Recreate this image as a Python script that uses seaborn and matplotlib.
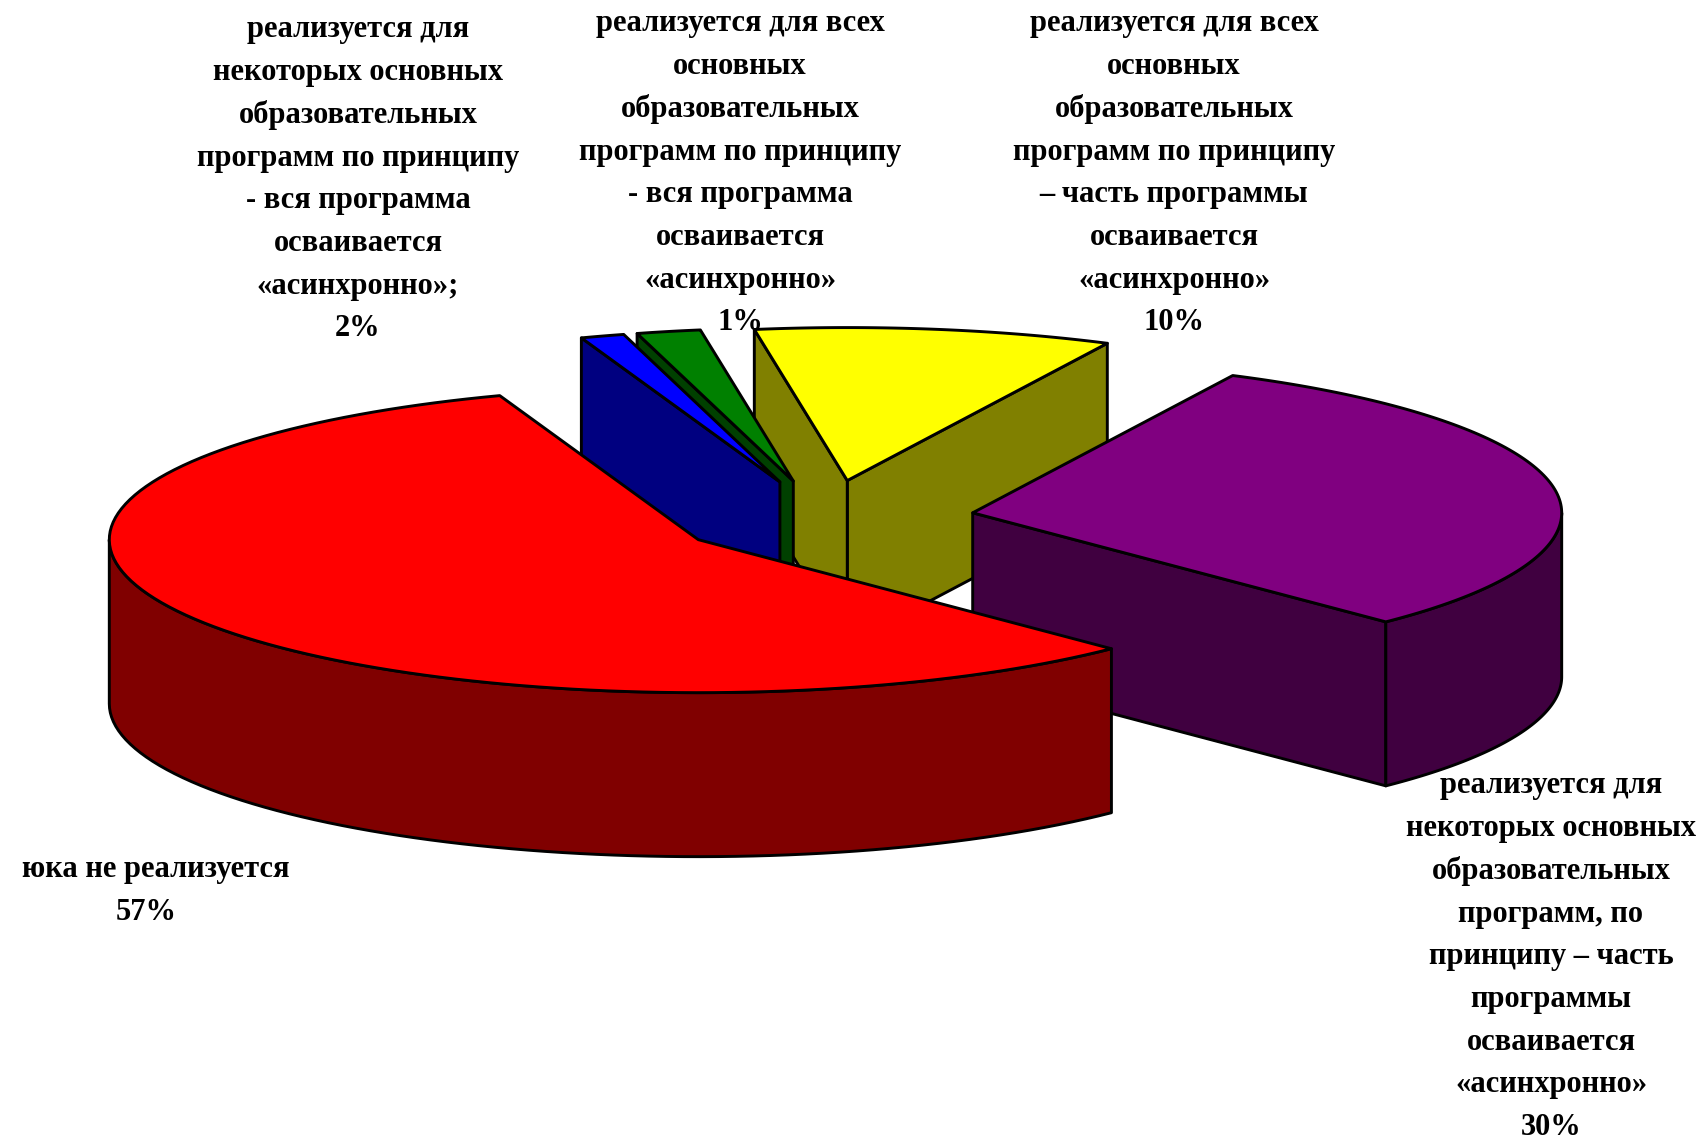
import matplotlib
matplotlib.use('Agg')
import matplotlib.pyplot as plt
import numpy as np
import seaborn as sns

# Data, in the order the slices run round the pie
shares = [9.8, 1.75, 1.2, 56.9, 30.35]
top_colors = ['#FFFF00', '#008000', '#0000FF', '#FF0000', '#800080']

label_yellow = ['реализуется для всех', 'основных', 'образовательных', 'программ по принципу',
                '– часть программы', 'осваивается', '«асинхронно»', '10%']
label_green = ['реализуется для всех', 'основных', 'образовательных', 'программ по принципу',
               '- вся программа', 'осваивается', '«асинхронно»', '1%']
label_blue = ['реализуется для', 'некоторых основных', 'образовательных', 'программ по принципу',
              '- вся программа', 'осваивается', '«асинхронно»;', '2%']
label_red = ['юка не реализуется', '57%']
label_purple = ['реализуется для', 'некоторых основных', 'образовательных', 'программ, по',
                'принципу – часть', 'программы', 'осваивается', '«асинхронно»', '30%']

# Pie geometry in pixels
start_angle = 63.8
center_x, center_y = 825, 519
radius_x, radius_y = 589, 153
depth = 164
explode = 0.254

sns.set_theme(style='white')
plt.rcParams['font.family'] = ['Liberation Serif', 'DejaVu Serif']

fig = plt.figure(figsize=(17.04, 11.4), dpi=100)
ax = fig.add_axes([0, 0, 1, 1])
ax.set_xlim(0, 1704)
ax.set_ylim(1140, 0)
ax.axis('off')

palette = sns.color_palette(top_colors)
edge = dict(edgecolor='black', linewidth=2.1, joinstyle='round')


def rim_point(apex, angle):
    rad = np.radians(angle)
    return apex[0] + radius_x * np.cos(rad), apex[1] - radius_y * np.sin(rad)


def draw_side(apex, angle, color):
    x, y = rim_point(apex, angle)
    ax.fill([apex[0], x, x, apex[0]], [apex[1], y, y + depth, apex[1] + depth],
            facecolor=color, zorder=3, **edge)


def draw_slice(start, share, color):
    end = start + share * 3.6
    mid = np.radians((start + end) / 2)
    apex = (center_x + explode * radius_x * np.cos(mid),
            center_y - explode * radius_y * np.sin(mid))
    dark = tuple(c * 0.5 for c in color)

    # cut faces, only those turned to the viewer
    if np.cos(np.radians(start)) > 0:
        draw_side(apex, start, dark)
    if np.cos(np.radians(end)) < 0:
        draw_side(apex, end, dark)

    # front part of the rim
    for lo, hi in [(180, 360), (540, 720)]:
        a, b = max(start, lo), min(end, hi)
        if a < b:
            t = np.linspace(a, b, 80)
            x, y = rim_point(apex, t)
            ax.fill(np.r_[x, x[::-1]], np.r_[y, y[::-1] + depth],
                    facecolor=dark, zorder=3, **edge)

    t = np.linspace(start, end, 120)
    x, y = rim_point(apex, t)
    ax.fill(np.r_[apex[0], x], np.r_[apex[1], y], facecolor=color, zorder=3, **edge)


def draw_label(lines, x, y0, pitch=42.7):
    for i, line in enumerate(lines):
        ax.text(x, y0 + i * pitch, line, ha='center', va='center', fontsize=22,
                fontweight='bold', color='black', zorder=2)


# back slices first, red one last
starts = start_angle + np.cumsum([0] + shares[:-1]) * 3.6
for i in [0, 1, 2, 4, 3]:
    draw_slice(starts[i], shares[i], palette[i])

draw_label(label_blue, 358, 30)
draw_label(label_green, 740, 24)
draw_label(label_yellow, 1174, 24)
draw_label(label_purple, 1551, 786)
ax.text(289, 870, label_red[0], ha='right', va='center', fontsize=22, fontweight='bold', color='black')
draw_label(label_red[1:], 146, 912)

fig.savefig('out.png', dpi=100)
